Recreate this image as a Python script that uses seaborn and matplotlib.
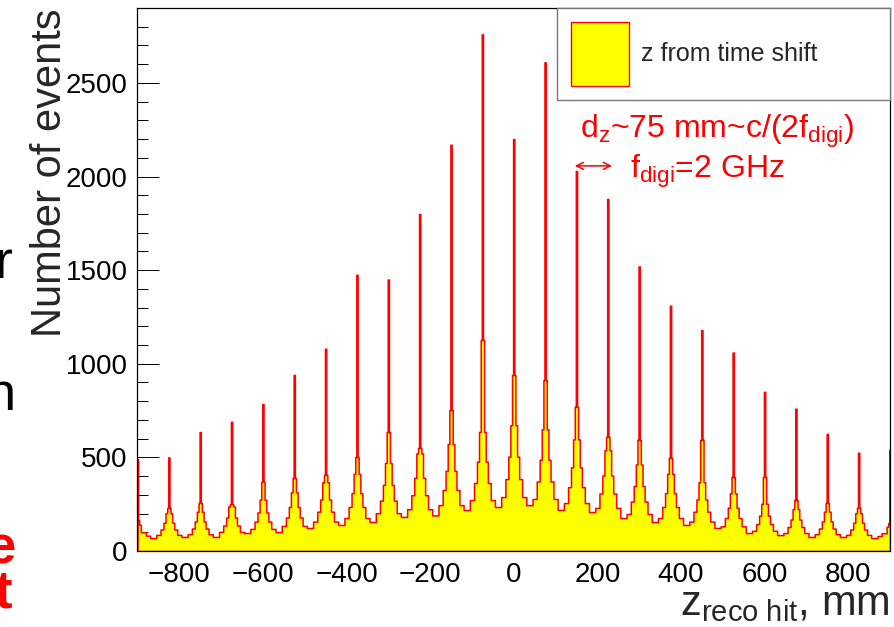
import numpy as np
import pandas as pd
import matplotlib
matplotlib.use("Agg")
import matplotlib.pyplot as plt
import seaborn as sns
from matplotlib.patches import Patch
from matplotlib.ticker import MultipleLocator

# ---------------- data ----------------
peak_z = [-825, -750, -675, -600, -525, -450, -375, -300, -225, -150, -75, 0,
          75, 150, 225, 300, 375, 450, 525, 600, 675, 750, 825]
spike_height = [500, 635, 690, 785, 940, 1080, 1475, 1450, 1800, 2170, 2760, 2200,
                2610, 2030, 1880, 1520, 1310, 1180, 1060, 850, 760, 625, 525]
inner_level = [230, 256, 250, 370, 390, 406, 502, 635, 550, 753, 1127, 940,
               913, 770, 610, 593, 497, 593, 395, 395, 272, 256, 230]
shoulder_6mm = [202, 210, 238, 274, 314, 367, 412, 470, 521, 571, 636, 672,
                650, 596, 538, 462, 412, 367, 308, 252, 224, 210, 202]
shoulder_10mm = [151, 158, 179, 206, 235, 275, 309, 353, 391, 428, 477, 504,
                 487, 447, 403, 347, 309, 275, 231, 189, 168, 158, 151]
shoulder_16mm = [115, 120, 136, 157, 179, 210, 235, 269, 298, 326, 363, 384,
                 371, 341, 307, 264, 235, 210, 176, 144, 128, 120, 115]
shoulder_25mm = [86, 90, 102, 118, 134, 157, 176, 202, 223, 245, 272, 288,
                 278, 256, 230, 198, 176, 157, 132, 108, 96, 90, 86]
valley_level = [69, 75, 75, 96, 101, 123, 139, 155, 182, 190, 219, 235,
                245, 219, 208, 176, 155, 139, 123, 96, 85, 75, 75, 69]
# half peaks at the histogram edges
left_edge_bins = [-900, -898.5, -896, -892, -880, -870]
left_edge_counts = [490, 165, 140, 100, 82]
right_edge_bins = [870, 880, 892, 896, 898.5, 900]
right_edge_counts = [80, 95, 130, 150, 540]
# bin edges around each peak (mm, relative to the peak)
peak_offsets = [-30, -20, -13, -8, -4, -1.5, 1.5, 4, 8, 13, 20, 30]

# ---------------- assemble histogram bins ----------------
edges = list(left_edge_bins)
counts = list(left_edge_counts)
counts.append(valley_level[0])
for k, p in enumerate(peak_z):
    edges.extend([p + o for o in peak_offsets])
    counts.extend([shoulder_25mm[k], shoulder_16mm[k], shoulder_10mm[k], shoulder_6mm[k],
                   inner_level[k], spike_height[k], inner_level[k], shoulder_6mm[k],
                   shoulder_10mm[k], shoulder_16mm[k], shoulder_25mm[k]])
    counts.append(valley_level[k + 1])
edges.extend(right_edge_bins)
counts.extend(right_edge_counts)
edges = [float(e) for e in edges]
centers = [0.5 * (a + b) for a, b in zip(edges[:-1], edges[1:])]
df = pd.DataFrame({"z": centers, "n": counts})

# ---------------- style ----------------
sns.set_style("ticks")
plt.rcParams["font.family"] = ["Liberation Sans", "DejaVu Sans"]
plt.rcParams["mathtext.fontset"] = "custom"
plt.rcParams["mathtext.rm"] = "Liberation Sans"
plt.rcParams["mathtext.it"] = "Liberation Sans:italic"
plt.rcParams["axes.edgecolor"] = "black"
plt.rcParams["axes.linewidth"] = 0.9

fig = plt.figure(figsize=(8.94, 6.27), dpi=100)
ax = fig.add_axes([0.1538, 0.1212, 0.8417, 0.866])

sns.histplot(data=df, x="z", weights="n", bins=edges, element="step", fill=True,
             facecolor="#ffff00", edgecolor="#ff0000", alpha=1.0, linewidth=1.1,
             ax=ax, legend=False)

ax.set_xlim(-900, 900)
ax.set_ylim(0, 2900)
ax.xaxis.set_major_locator(MultipleLocator(200))
ax.xaxis.set_minor_locator(MultipleLocator(50))
ax.yaxis.set_major_locator(MultipleLocator(500))
ax.yaxis.set_minor_locator(MultipleLocator(100))
ax.tick_params(axis="both", which="both", direction="in", top=False, right=False,
               colors="black", width=0.7, labelsize=20)
ax.tick_params(axis="y", which="major", length=16, pad=7)
ax.tick_params(axis="y", which="minor", length=8)
ax.tick_params(axis="x", which="major", length=11.7, pad=8)
ax.tick_params(axis="x", which="minor", length=5.9)
for s in ax.spines.values():
    s.set_visible(True)
    s.set_zorder(5)

ax.set_ylabel("Number of events", fontsize=30, loc="top", labelpad=-3)
ax.set_xlabel(r"z$_\mathregular{reco\ hit}$, mm", fontsize=30, loc="right", labelpad=-3)

handle = Patch(facecolor="#ffff00", edgecolor="#ff0000", linewidth=1.0)
leg = ax.legend([handle], ["z from time shift"], loc="upper left",
                bbox_to_anchor=(0.5575, 1.0, 0.4425, 0.0), mode="expand",
                borderaxespad=0, fancybox=False, frameon=True, fontsize=18,
                handlelength=2.32, handleheight=3.56, handletextpad=0.5,
                borderpad=0.55, edgecolor="#777777", framealpha=1.0)
leg.get_frame().set_linewidth(1.0)

ax.text(158, 2206, r"d$_\mathregular{z}$~75 mm~c/(2f$_\mathregular{digi}$)",
        color="#ff0000", fontsize=23, ha="left", va="baseline")
ax.text(278, 1993, r"f$_\mathregular{digi}$=2 GHz",
        color="#ff0000", fontsize=23, ha="left", va="baseline")
ax.annotate("", xy=(146, 2057), xytext=(235, 2057),
            arrowprops=dict(arrowstyle="<->,head_length=0.5,head_width=0.25",
                            color="#ff0000", lw=1.1, shrinkA=0, shrinkB=0))

# fragments of slide text cut at the left edge
fig.text(12 / 894, 1 - 278 / 627, "r", ha="right", va="baseline", fontsize=39, color="black")
fig.text(16 / 894, 1 - 410 / 627, "n", ha="right", va="baseline", fontsize=39, color="black")
fig.text(16 / 894, 1 - 563 / 627, "e", ha="right", va="baseline", fontsize=38,
         color="#ff0000", fontweight="bold")
fig.text(12 / 894, 1 - 607 / 627, "t", ha="right", va="baseline", fontsize=38,
         color="#ff0000", fontweight="bold")

fig.savefig("out.png", dpi=100)
